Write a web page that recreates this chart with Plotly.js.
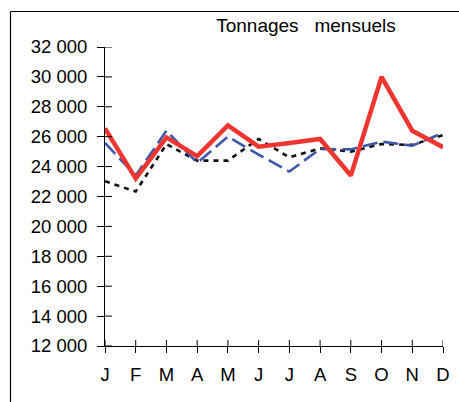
<!DOCTYPE html>
<html>
<head>
<meta charset="utf-8">
<script src="https://cdn.plot.ly/plotly-3.0.1.min.js"></script>
<style>
html,body{margin:0;padding:0;background:#fff;}
#chart{width:459px;height:402px;}
</style>
</head>
<body>
<div id="chart"></div>
<script>
const months = ["J","F","M","A","M ","J ","J  ","A ","S","O","N","D"];
const monthLabels = ["J","F","M","A","M","J","J","A","S","O","N","D"];
const seriesRed   = [26550, 23200, 25950, 24700, 26750, 25330, 25580, 25850, 23400, 30000, 26400, 25300];
const seriesBlue  = [25580, 23400, 26400, 24250, 26000, 24800, 23670, 25180, 25150, 25670, 25400, 26250];
const seriesBlack = [23020, 22330, 25500, 24400, 24400, 25850, 24620, 25220, 25000, 25510, 25450, 26100];
const yTicks = [12000,14000,16000,18000,20000,22000,24000,26000,28000,30000,32000];
const titleText = "Tonnages\u00A0\u00A0\u00A0mensuels";

const W = 459, H = 402;
const M = {l:105, r:16, t:47, b:56};
const pw = W - M.l - M.r, ph = H - M.t - M.b;
const xIdx = months.map((_, i) => i);
const Y0 = 12000, Y1 = 32000;

const traces = [
  {x: xIdx, y: seriesBlack, type:'scatter', mode:'lines',
   line:{color:'#111111', width:2.6, dash:'5px,5px'}, hoverinfo:'skip'},
  {x: xIdx, y: seriesBlue, type:'scatter', mode:'lines',
   line:{color:'#3d58a8', width:2.6, dash:'15px,6px'}, hoverinfo:'skip'},
  {x: xIdx, y: seriesRed, type:'scatter', mode:'lines',
   line:{color:'#ee3530', width:4.5}, hoverinfo:'skip'}
];

const fam = '"Liberation Sans", Arial, sans-serif';
const tickFont = {family:fam, size:18.5, color:'#000'};

// inner half of the crossing tick marks, placed through the axes' own scales
const innerTicks = [];
yTicks.forEach(v => innerTicks.push({type:'line', layer:'above',
  xref:'paper', x0:0, x1:7/pw, yref:'y', y0:v, y1:v,
  line:{color:'#000', width:1}}));
xIdx.forEach(i => innerTicks.push({type:'line', layer:'above',
  xref:'x', x0:i, x1:i, yref:'paper', y0:0, y1:6/ph,
  line:{color:'#000', width:1}}));

const frame = [
  {type:'line', xref:'paper', yref:'paper',
   x0:(10.5-M.l)/pw, x1:(10.5-M.l)/pw, y0:(H-M.b-11.5)/ph, y1:-M.b/ph - 0.05,
   line:{color:'#000', width:1.2}},
  {type:'line', xref:'paper', yref:'paper',
   x0:(10.5-M.l)/pw, x1:(W-M.l)/pw + 0.05, y0:(H-M.b-11.5)/ph, y1:(H-M.b-11.5)/ph,
   line:{color:'#000', width:1.2}}
];

const layout = {
  width: W, height: H,
  margin: {l:M.l, r:M.r, t:M.t, b:M.b, pad:0},
  paper_bgcolor:'#fff', plot_bgcolor:'#fff',
  showlegend:false,
  separators:', ',
  font: tickFont,
  title:{text:titleText, font:{family:fam, size:19, color:'#000'},
         xref:'paper', x:(306-M.l)/pw, xanchor:'center',
         yref:'container', y:1-25/H, yanchor:'middle'},
  xaxis:{range:[0,11], tickmode:'array', tickvals:xIdx, ticktext:monthLabels,
         showgrid:false, zeroline:false, showline:true, linecolor:'#000', linewidth:1,
         ticks:'outside', ticklen:6, tickwidth:1, tickcolor:'#000',
         ticklabelstandoff:6, tickfont:tickFont, fixedrange:true},
  yaxis:{range:[Y0,Y1], tickmode:'array', tickvals:yTicks, tickformat:',d',
         showgrid:false, zeroline:false, showline:true, linecolor:'#000', linewidth:1,
         ticks:'outside', ticklen:7, tickwidth:1, tickcolor:'#000',
         ticklabelstandoff:6, tickfont:tickFont, fixedrange:true},
  shapes: innerTicks.concat(frame)
};

Plotly.newPlot('chart', traces, layout, {staticPlot:true, displayModeBar:false});
</script>
</body>
</html>
